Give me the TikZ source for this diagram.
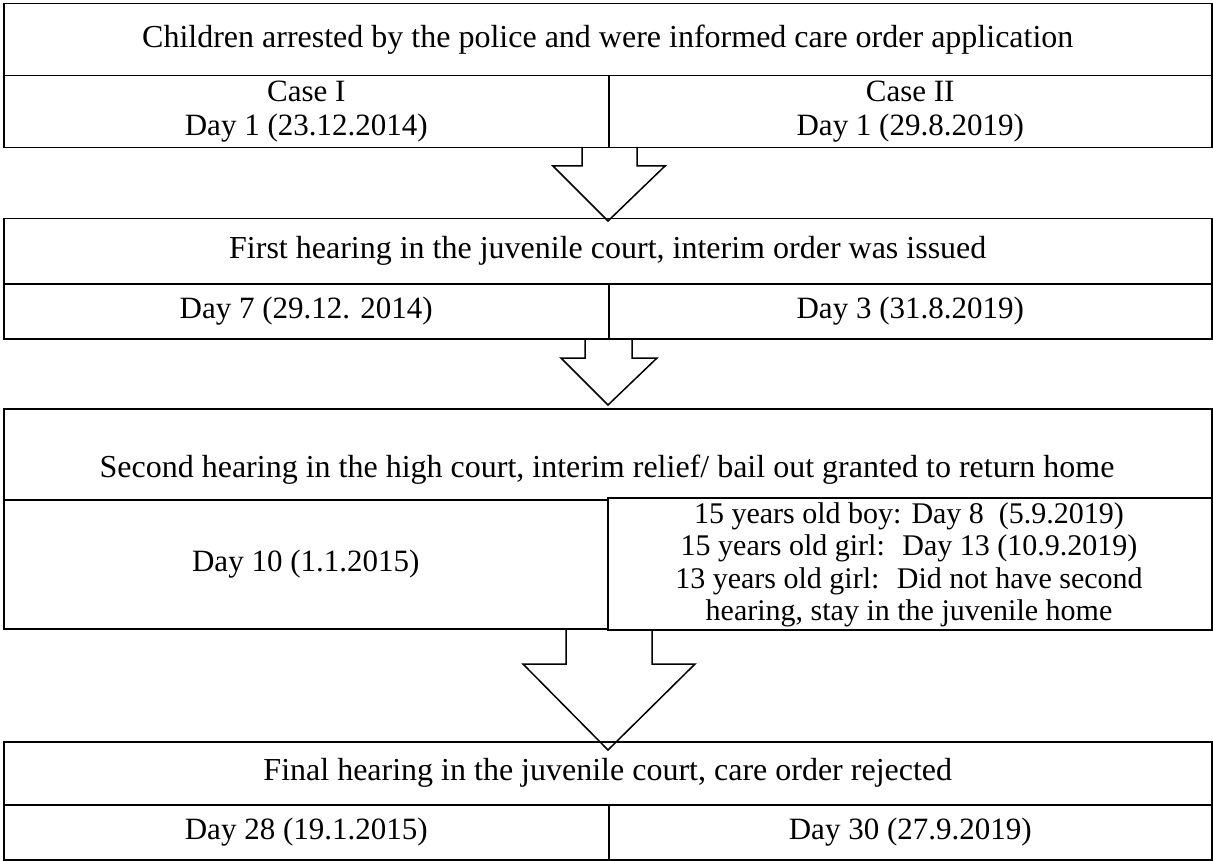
\documentclass[tikz,border=0pt]{standalone}
\usepackage{fontspec}
\setmainfont{Liberation Serif}
\usetikzlibrary{calc}
\begin{document}
\begin{tikzpicture}[x=1pt,y=-1pt,
  cell/.style={draw, line width=1.5pt, inner sep=0pt, anchor=north west, align=center,
    font=\fontsize{31}{34}\selectfont},
  titlecell/.style={cell, font=\fontsize{32}{35}\selectfont},
  txt/.style={inner sep=0pt, align=center, font=\fontsize{30}{32.5}\selectfont},
  blockarrow/.style={draw, line width=1.5pt, line join=miter}]
\useasboundingbox (0,0) rectangle (1213,861);
\fill[white] (0,0) rectangle (1213,861);
% Box 1
\node[titlecell, minimum width=1208pt, minimum height=72pt] (t1) at (3,3) {Children arrested by the police and were informed care order application};
\node[cell, minimum width=605pt, minimum height=72pt] (l1) at (3,75) {Case I\\Day 1 (23.12.2014)};
\node[cell, minimum width=603pt, minimum height=72pt] (r1) at (608,75) {Case II\\Day 1 (29.8.2019)};
% Box 2
\node[titlecell, minimum width=1208pt, minimum height=65pt] (t2) at (3,218) {First hearing in the juvenile court, interim order was issued};
\node[cell, minimum width=605pt, minimum height=55pt] (l2) at (3,283) {Day 7 (29.12. 2014)};
\node[cell, minimum width=603pt, minimum height=55pt] (r2) at (608,283) {Day 3 (31.8.2019)};
% Box 3
\node[cell, minimum width=1208pt, minimum height=91pt] (t3) at (3,408) {};
\node[txt, anchor=base, font=\fontsize{32}{35}\selectfont] (t3txt) at (607,477) {Second hearing in the high court, interim relief/ bail out granted to return home};
\node[cell, minimum width=604pt, minimum height=129pt] (l3) at (3,499) {Day 10 (1.1.2015)};
\node[cell, minimum width=604pt, minimum height=132pt, fill=white] (r3) at (607,497) {};
\node[txt, anchor=base] (r3a) at (909,523) {15 years old boy: Day 8~ (5.9.2019)};
\node[txt, anchor=base] (r3b) at (909,555.5) {15 years old girl:~ Day 13 (10.9.2019)};
\node[txt, anchor=base] (r3c) at (909,588) {13 years old girl:~ Did not have second};
\node[txt, anchor=base] (r3d) at (909,620) {hearing, stay in the juvenile home};
% Box 4
\node[titlecell, minimum width=1208pt, minimum height=63pt] (t4) at (3,741) {Final hearing in the juvenile court, care order rejected};
\node[cell, minimum width=605pt, minimum height=55pt] (l4) at (3,804) {Day 28 (19.1.2015)};
\node[cell, minimum width=603pt, minimum height=55pt] (r4) at (608,804) {Day 30 (27.9.2019)};
% Arrows
\coordinate (a1) at (608,147);
\coordinate (a1tip) at (608,221);
\draw[blockarrow] ($(a1)+(-26,0)$) -- ++(0,19) -- ($(a1)+(-55,19)$) -- (a1tip) -- ($(a1)+(57,19)$) -- ($(a1)+(29,19)$) -- ($(a1)+(29,0)$);
\coordinate (a2) at (608,338);
\coordinate (a2tip) at (608,405);
\draw[blockarrow] ($(a2)+(-23,0)$) -- ++(0,20) -- ($(a2)+(-47,20)$) -- (a2tip) -- ($(a2)+(49,20)$) -- ($(a2)+(24,20)$) -- ($(a2)+(24,0)$);
\coordinate (a3) at (608,629);
\coordinate (a3tip) at (608,750);
\draw[blockarrow] ($(a3)+(-42,0)$) -- ++(0,35) -- ($(a3)+(-85,35)$) -- (a3tip) -- ($(a3)+(87,35)$) -- ($(a3)+(44,35)$) -- ($(a3)+(44,0)$);
\end{tikzpicture}
\end{document}
